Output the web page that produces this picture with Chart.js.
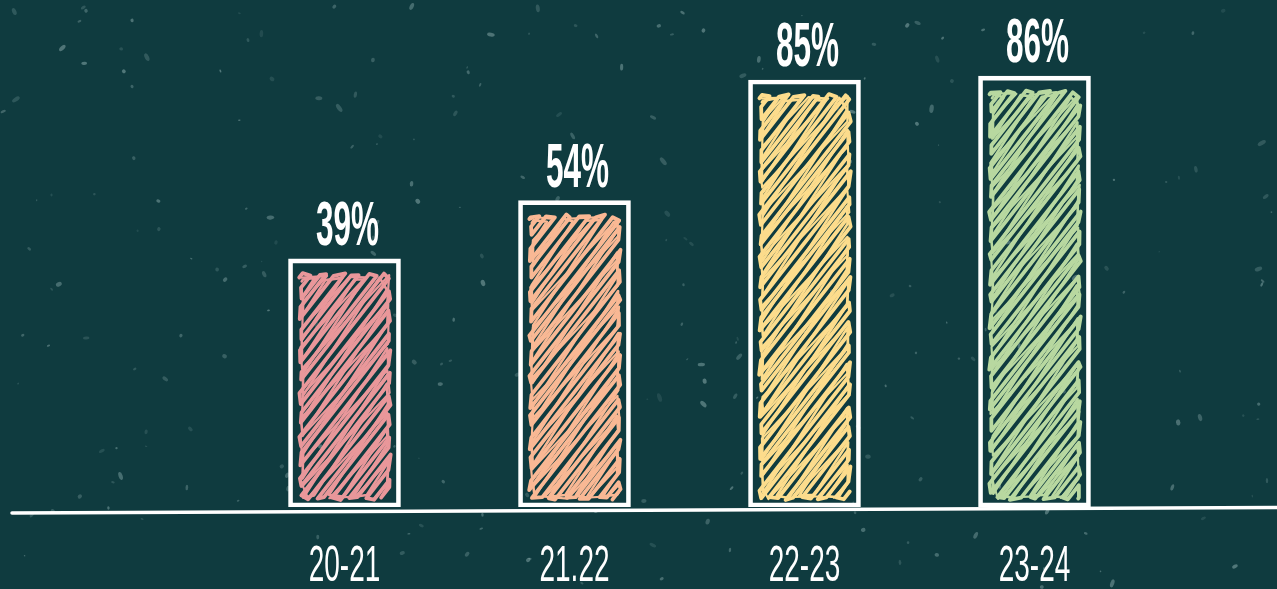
<!DOCTYPE html>
<html>
<head>
<meta charset="utf-8">
<script src="https://cdn.jsdelivr.net/npm/chart.js@4.4.1/dist/chart.umd.min.js"></script>
<style>
  html, body { margin: 0; padding: 0; background: #0f3b3f; overflow: hidden; }
  #wrap { width: 1277px; height: 589px; }
</style>
</head>
<body>
<div id="wrap"><canvas id="chart" width="1277" height="589"></canvas></div>
<script>
// Season labels and their shares (percent)
const seasons = ['20-21', '21.22', '22-23', '23-24'];
const shares = [39, 54, 85, 86];
const scribbleColors = ['#e9979a', '#f9b894', '#fcdc8c', '#b8d8a0'];

// Value axis range: bars grow from the floor, not from zero
const axisFloor = -24.75;
const axisCeil = 100;

const BG = '#0f3b3f';
const CHALK = '#ffffff';

// Small deterministic generator for the chalk-dust texture
let grainState = 918273;
function grain() {
  grainState = (grainState * 1664525 + 1013904223) >>> 0;
  return grainState / 4294967296;
}
const dust = [];
for (let i = 0; i < 260; i++) {
  dust.push({
    x: grain(), y: grain(),
    r: 0.6 + grain() * 1.6,
    stretch: 1 + grain() * 1.2,
    rot: grain() * Math.PI,
    a: 0.12 + grain() * 0.33
  });
}

const chalkboard = {
  id: 'chalkboard',
  beforeDraw(chart) {
    const { ctx, width, height } = chart;
    ctx.save();
    ctx.fillStyle = BG;
    ctx.fillRect(0, 0, width, height);
    dust.forEach(d => {
      ctx.fillStyle = `rgba(165,195,195,${d.a})`;
      ctx.beginPath();
      ctx.ellipse(d.x * width, d.y * height, d.r * d.stretch, d.r, d.rot, 0, Math.PI * 2);
      ctx.fill();
    });
    ctx.restore();
  }
};

// Hand-drawn ground line under the bars
const groundLine = {
  id: 'groundLine',
  beforeDatasetsDraw(chart) {
    const { ctx, width } = chart;
    const yb = chart.scales.y.getPixelForValue(axisFloor);
    ctx.save();
    ctx.strokeStyle = CHALK;
    ctx.lineWidth = 3.5;
    ctx.lineCap = 'round';
    ctx.beginPath();
    ctx.moveTo(12, yb + 6);
    ctx.lineTo(width, yb + 0.5);
    ctx.stroke();
    ctx.restore();
  }
};

// Zig-zag crayon strokes filling a rectangle
function scribble(ctx, x0, y0, x1, y1, color, seed, angleDeg, stepBase, stepVar, width) {
  const ang = angleDeg * Math.PI / 180;
  const dx = Math.cos(ang), dy = -Math.sin(ang);
  const nx = Math.sin(ang), ny = Math.cos(ang);
  const cx = (x0 + x1) / 2, cy = (y0 + y1) / 2;
  const offs = [[x0, y0], [x1, y0], [x0, y1], [x1, y1]].map(([x, y]) => (x - cx) * nx + (y - cy) * ny);
  const cmin = Math.min(...offs), cmax = Math.max(...offs);
  ctx.save();
  ctx.strokeStyle = color;
  ctx.lineWidth = width;
  ctx.lineJoin = 'round';
  ctx.lineCap = 'round';
  ctx.beginPath();
  let c = cmin + 4, i = 0, first = true;
  while (c < cmax - 4) {
    const px = cx + c * nx, py = cy + c * ny;
    let tmin = -1e9, tmax = 1e9;
    [[dx, px, x0, x1], [dy, py, y0, y1]].forEach(([d, p, lo, hi]) => {
      if (Math.abs(d) < 1e-9) return;
      let a = (lo - p) / d, b = (hi - p) / d;
      if (a > b) [a, b] = [b, a];
      tmin = Math.max(tmin, a);
      tmax = Math.min(tmax, b);
    });
    if (tmax - tmin > 4) {
      const ta = tmin + 1 + Math.abs(4 * Math.sin(seed * 3.1 + i * 2.3));
      const tb = tmax - 1 - Math.abs(4 * Math.cos(seed * 1.7 + i * 1.9));
      const a = [px + ta * dx, py + ta * dy];
      const b = [px + tb * dx, py + tb * dy];
      const [s, e] = (i % 2 === 0) ? [a, b] : [b, a];
      if (first) { ctx.moveTo(s[0], s[1]); first = false; }
      else ctx.lineTo(s[0], s[1]);
      ctx.lineTo(e[0], e[1]);
    }
    c += stepBase + stepVar * Math.abs(Math.sin(seed * 1.3 + i * 0.9));
    i++;
  }
  ctx.stroke();
  ctx.restore();
}

const crayonFill = {
  id: 'crayonFill',
  afterDatasetsDraw(chart) {
    const { ctx } = chart;
    const meta = chart.getDatasetMeta(0);
    meta.data.forEach((bar, i) => {
      const half = bar.width / 2;
      const x0 = bar.x - half + 10, x1 = bar.x + half - 9;
      const y0 = bar.y + 13, y1 = bar.base - 6;
      scribble(ctx, x0, y0, x1, y1, scribbleColors[i], i + 1, 52, 4.2, 3.6, 3.8);
      scribble(ctx, x0 + 2, y0 + 4, x1 - 2, y1 - 2, scribbleColors[i], i + 7, 57, 7, 6, 2.6);
      scribble(ctx, x0 + 1, y0 + 2, x1 - 1, y1 - 1, scribbleColors[i], i + 13, 47, 11, 7, 2.2);
    });
  }
};

// Condensed chalk lettering for values and season names
function chalkText(ctx, text, x, y, font, squeeze) {
  ctx.save();
  ctx.font = font;
  ctx.fillStyle = CHALK;
  ctx.textAlign = 'center';
  ctx.textBaseline = 'alphabetic';
  ctx.translate(x, y);
  ctx.scale(squeeze, 1);
  ctx.fillText(text, 0, 0);
  ctx.restore();
}

const chalkLabels = {
  id: 'chalkLabels',
  afterDraw(chart) {
    const { ctx } = chart;
    const meta = chart.getDatasetMeta(0);
    const xs = chart.scales.x;
    const yb = chart.scales.y.getPixelForValue(axisFloor);
    meta.data.forEach((bar, i) => {
      chalkText(ctx, shares[i] + '%', bar.x + 3, bar.y - 14, 'bold 63px "Liberation Sans", Arial, sans-serif', 0.5);
    });
    xs.getLabels().forEach((lab, i) => {
      chalkText(ctx, lab, xs.getPixelForValue(i), yb + 74, '50px "Liberation Sans", Arial, sans-serif', 0.56);
    });
  }
};

new Chart(document.getElementById('chart'), {
  type: 'bar',
  data: {
    labels: seasons,
    datasets: [{
      data: shares,
      base: axisFloor,
      backgroundColor: 'rgba(0,0,0,0)',
      borderColor: CHALK,
      borderWidth: 4,
      borderSkipped: false,
      barThickness: 112
    }]
  },
  options: {
    responsive: false,
    animation: false,
    layout: { padding: { left: 229.5, right: 127.5, top: 21.6, bottom: 82 } },
    plugins: { legend: { display: false }, tooltip: { enabled: false } },
    scales: {
      x: { display: false },
      y: { display: false, min: axisFloor, max: axisCeil }
    }
  },
  plugins: [chalkboard, groundLine, crayonFill, chalkLabels]
});
</script>
</body>
</html>
